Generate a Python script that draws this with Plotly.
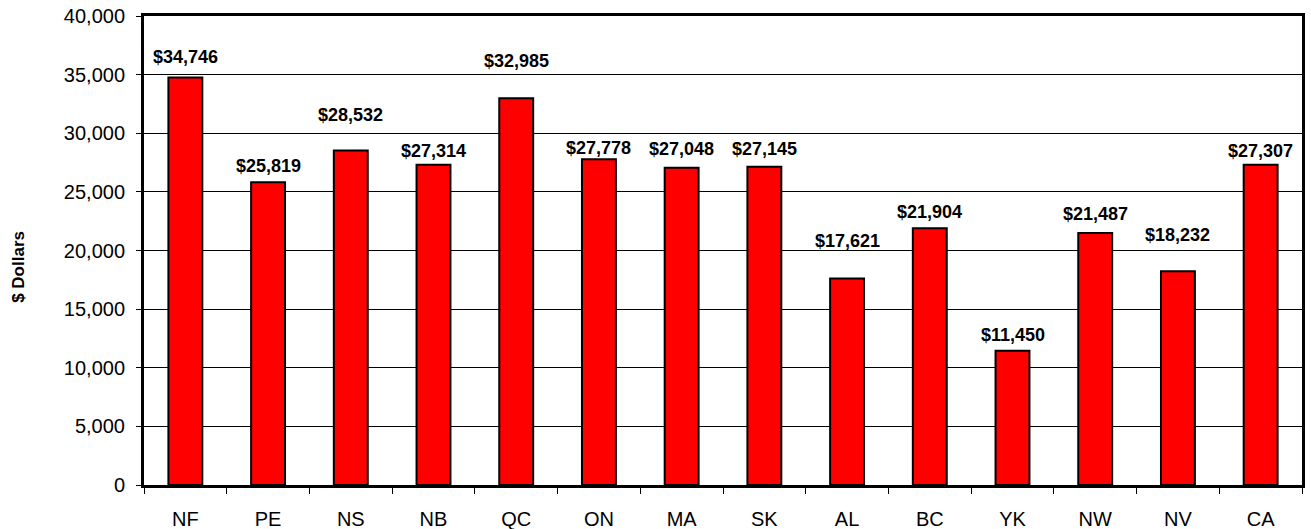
import plotly.graph_objects as go

regions = ["NF", "PE", "NS", "NB", "QC", "ON", "MA", "SK", "AL", "BC", "YK", "NW", "NV", "CA"]
dollars = [34746, 25819, 28532, 27314, 32985, 27778, 27048, 27145, 17621, 21904, 11450, 21487, 18232, 27307]
y_tick_values = [0, 5000, 10000, 15000, 20000, 25000, 30000, 35000, 40000]
label_lift = [21, 16, 35, 14, 37, 11, 19, 18, 37, 16, 16, 19, 36, 14]

FONT = "Arial, 'Liberation Sans', sans-serif"

fig = go.Figure()
fig.add_trace(go.Bar(
    x=regions, y=dollars,
    width=0.41,
    marker=dict(color="#FF0000", line=dict(color="black", width=2)),
    hoverinfo="x+y",
))

for r, v, lift in zip(regions, dollars, label_lift):
    fig.add_annotation(
        x=r, y=v, yshift=lift, text=f"${v:,}", showarrow=False,
        yanchor="middle", xanchor="center",
        font=dict(family=FONT, size=18, color="black", weight="bold"),
    )

fig.add_annotation(
    xref="paper", yref="paper", x=-0.108, y=0.465,
    text="$ Dollars", textangle=-90, showarrow=False,
    xanchor="center", yanchor="middle",
    font=dict(family=FONT, size=17, color="black", weight="bold"),
)

fig.update_layout(
    width=1311, height=529,
    margin=dict(l=144, r=9, t=16, b=44, autoexpand=False),
    paper_bgcolor="white", plot_bgcolor="white",
    showlegend=False,
    font=dict(family=FONT, color="black"),
    xaxis=dict(
        automargin=False,
        showline=True, linecolor="black", linewidth=3, mirror=True,
        ticks="outside", tickson="boundaries", ticklen=6, tickcolor="black", tickwidth=1,
        tickfont=dict(family=FONT, size=20, color="black"),
        ticklabelstandoff=14,
        ticklabeloverflow="allow",
        showgrid=False,
    ),
    yaxis=dict(
        automargin=False,
        range=[0, 40000], tickvals=y_tick_values, tickformat=",",
        showline=True, linecolor="black", linewidth=3, mirror=True,
        ticks="outside", ticklen=5, tickcolor="black", tickwidth=1,
        tickfont=dict(family=FONT, size=20, color="black"),
        ticklabelstandoff=7,
        ticklabeloverflow="allow",
        showgrid=True, gridcolor="black", gridwidth=1,
        zeroline=False,
    ),
)

fig.write_html(
    "out.html",
    config={"displayModeBar": False},
    post_script="document.body.style.margin='0px'; document.body.style.overflow='hidden';",
)
